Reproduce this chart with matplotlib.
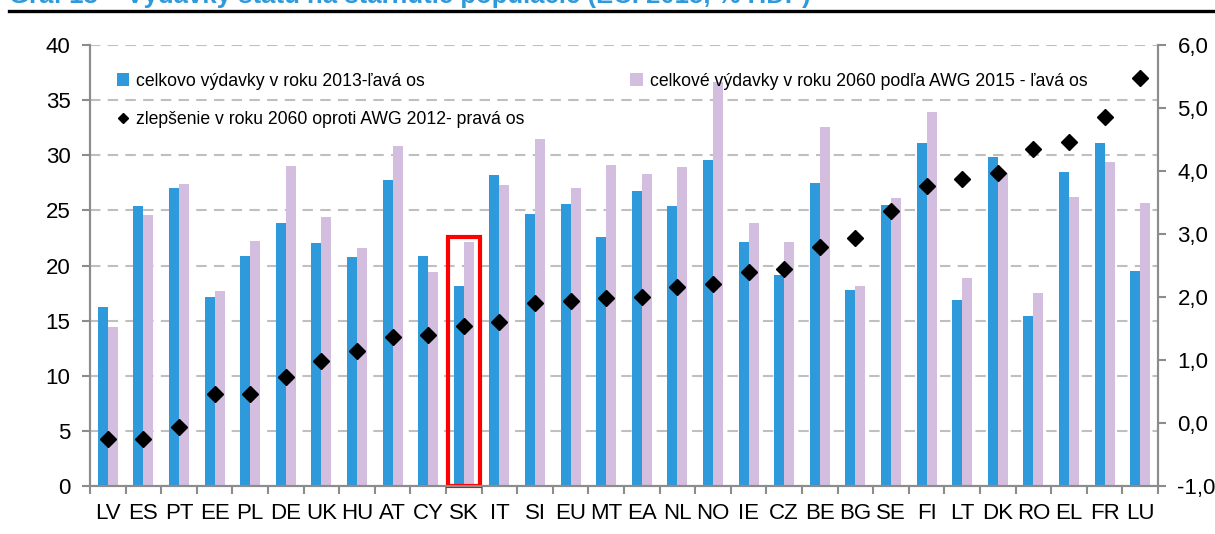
import numpy as np
import matplotlib
matplotlib.use("Agg")
from matplotlib import pyplot as plt
from matplotlib.lines import Line2D
from matplotlib.patches import Rectangle
from matplotlib.ticker import FuncFormatter

plt.rcParams['font.family'] = ['Liberation Sans', 'DejaVu Sans']

# krajiny
countries = ["LV", "ES", "PT", "EE", "PL", "DE", "UK", "HU", "AT", "CY",
             "SK", "IT", "SI", "EU", "MT", "EA", "NL", "NO", "IE", "CZ",
             "BE", "BG", "SE", "FI", "LT", "DK", "RO", "EL", "FR", "LU"]

# vydavky 2013 (% HDP), lava os
spend_2013 = [16.2, 25.4, 27.0, 17.1, 20.9, 23.9, 22.0, 20.8, 27.8, 20.9,
              18.1, 28.2, 24.7, 25.6, 22.6, 26.8, 25.4, 29.6, 22.1, 19.1,
              27.5, 17.8, 25.5, 31.1, 16.9, 29.8, 15.4, 28.5, 31.1, 19.5]

# vydavky 2060 podla AWG 2015 (% HDP), lava os
spend_2060 = [14.4, 24.6, 27.4, 17.7, 22.2, 29.0, 24.4, 21.6, 30.8, 19.4,
              22.1, 27.3, 31.5, 27.0, 29.1, 28.3, 28.9, 36.6, 23.9, 22.1,
              32.6, 18.1, 26.1, 33.9, 18.9, 28.4, 17.5, 26.2, 29.4, 25.7]

# zlepsenie oproti AWG 2012 (p.b.), prava os
improvement = [-0.26, -0.26, -0.07, 0.46, 0.46, 0.73, 0.98, 1.14, 1.36, 1.40,
               1.54, 1.61, 1.91, 1.93, 1.98, 2.00, 2.16, 2.21, 2.40, 2.44,
               2.79, 2.93, 3.37, 3.76, 3.87, 3.97, 4.35, 4.46, 4.86, 5.48]

left_ticks = [0, 5, 10, 15, 20, 25, 30, 35, 40]
right_ticks = [-1, 0, 1, 2, 3, 4, 5, 6]

title = "Graf 13 – Výdavky štátu na starnutie populácie (EC. 2015, % HDP)"
label_2013 = "celkovo výdavky v roku 2013-ľavá os"
label_2060 = "celkové výdavky v roku 2060 podľa AWG 2015 - ľavá os"
label_impr = "zlepšenie v roku 2060 oproti AWG 2012- pravá os"

blue = "#2E9ADB"
lilac = "#D4BEDF"
axis_grey = "#8C8C8C"

fig = plt.figure(figsize=(12.15, 5.34), dpi=100)
ax = fig.add_axes([90 / 1215, 48 / 534, 1068 / 1215, 441 / 534])
ax2 = ax.twinx()

x = np.arange(len(countries))
w = 0.28
b1 = ax.bar(x - w / 2, spend_2013, w, color=blue, zorder=2)
b2 = ax.bar(x + w / 2, spend_2060, w, color=lilac, zorder=2)
pts, = ax2.plot(x, improvement, linestyle="none", marker="D", markersize=8.5,
                color="black", zorder=3)

ax.set_xlim(-0.5, len(countries) - 0.5)
ax.set_ylim(0, 40)
ax.set_yticks(left_ticks)
ax2.set_ylim(-1, 6)
ax2.set_yticks(right_ticks)
ax2.yaxis.set_major_formatter(FuncFormatter(lambda v, p: f"{v:.1f}".replace(".", ",")))

ax.set_xticks(x)
ax.set_xticklabels(countries)
ax.set_xticks(np.arange(len(countries) + 1) - 0.5, minor=True)
ax.tick_params(axis="x", which="major", length=0, pad=12, labelsize=16)
ax.tick_params(axis="x", which="minor", length=6, width=1.5, color=axis_grey)
ax.tick_params(axis="y", length=6, width=1.5, color=axis_grey, labelsize=16, pad=8)
ax2.tick_params(axis="y", length=6, width=1.5, color=axis_grey, labelsize=16, pad=8)

ax.yaxis.grid(True, linestyle=(0, (5, 3.5)), color="#BFBFBF", linewidth=1.5, zorder=0)
ax.set_axisbelow(True)

for a in (ax, ax2):
    a.spines["top"].set_visible(False)
    for s in ("left", "right", "bottom"):
        a.spines[s].set_color(axis_grey)
        a.spines[s].set_linewidth(1.5)

# zvyraznenie Slovenska
sk = countries.index("SK")
ax.add_patch(Rectangle((sk - 0.45, 0), 0.9, max(spend_2013[sk], spend_2060[sk]) + 0.5,
                       fill=False, edgecolor="#FF0000", linewidth=3, zorder=4,
                       clip_on=False))

# legenda: dva stlpce, kosostvorec pod modrym stlpcom
ax.legend([b1, pts, b2], [label_2013, label_impr, label_2060], ncol=2,
          loc="upper left", bbox_to_anchor=(0.01, 0.973), frameon=False,
          fontsize=12.7, handlelength=0.7, handletextpad=0.4,
          labelspacing=1.2, columnspacing=6.0, markerscale=0.6)

fig.text(9 / 1215, 1 - 2.5 / 534, title, color=blue, fontsize=18.5,
         fontweight="bold", va="baseline", ha="left")
fig.add_artist(Line2D([9 / 1215, 1], [1 - 10.5 / 534] * 2, color="black",
                      linewidth=2.4, transform=fig.transFigure))

fig.savefig("out.png", dpi=100)
